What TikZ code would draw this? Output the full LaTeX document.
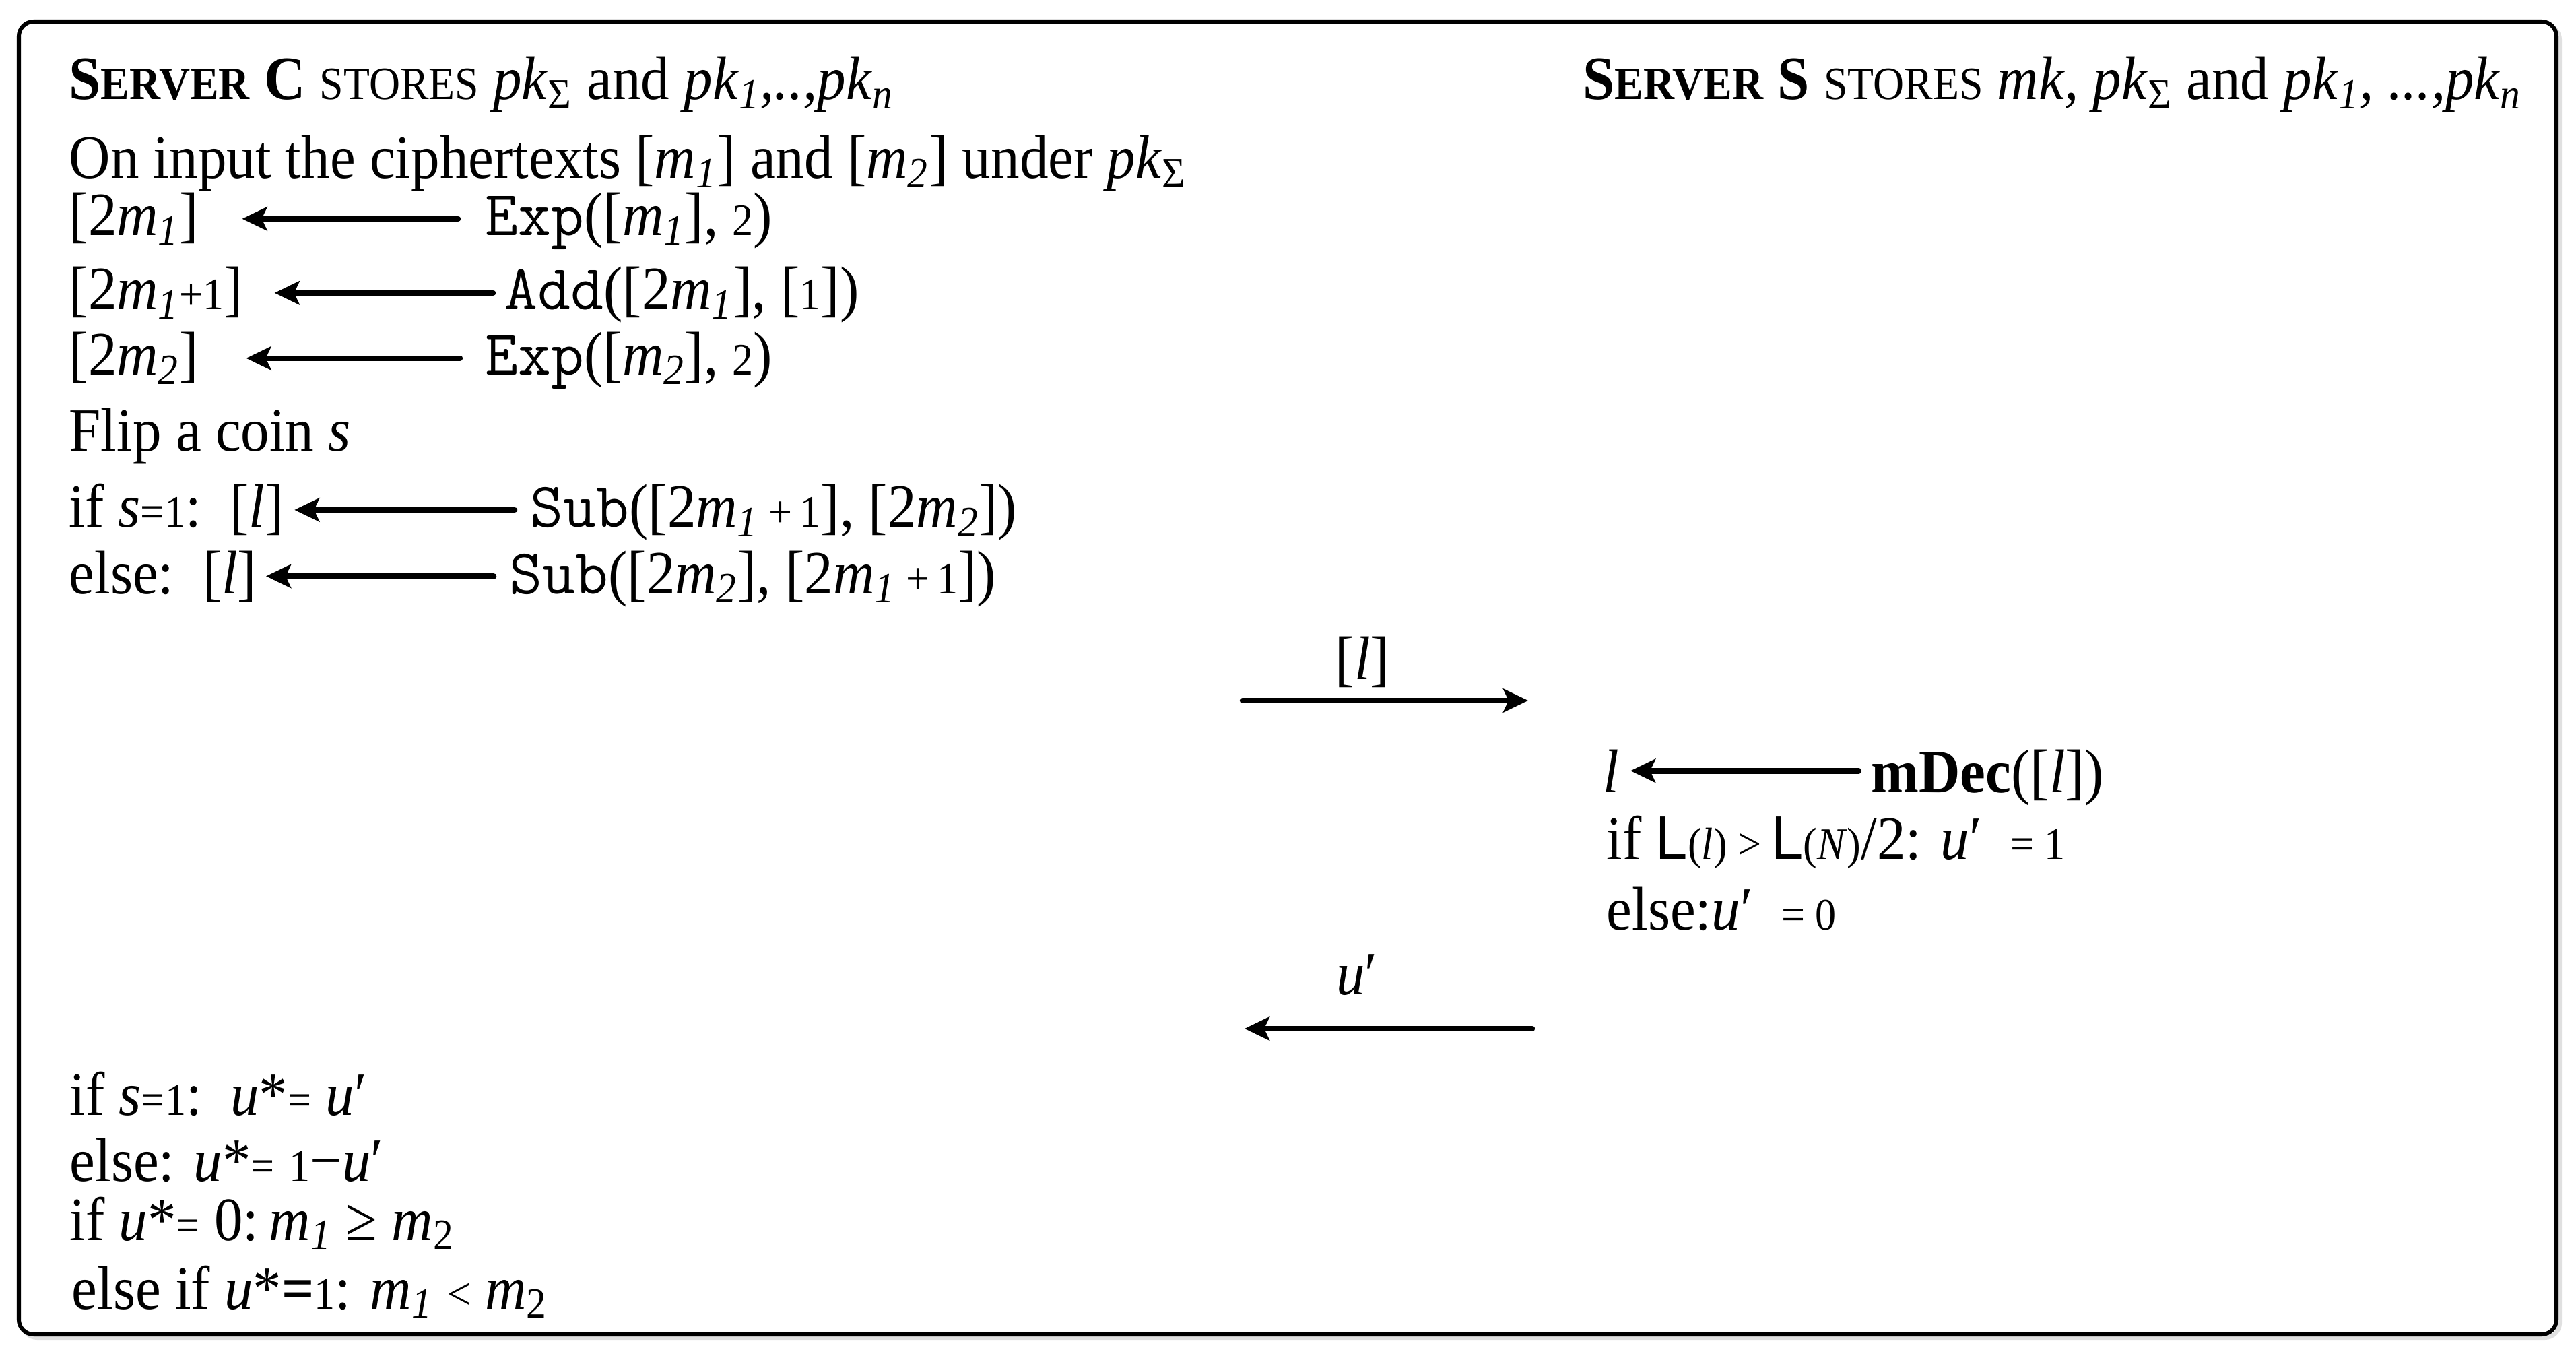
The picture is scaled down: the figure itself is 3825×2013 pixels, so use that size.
\documentclass[tikz,border=0pt]{standalone}
\usepackage{fontspec}
\setmainfont{Liberation Serif}[FakeStretch=0.93]
\newfontfamily\sansf{Liberation Sans}[FakeStretch=0.93]
\usetikzlibrary{arrows.meta}
\newcommand\ii[1]{\textit{#1}}
\newcommand\sm[1]{{\fontsize{19}{22}\selectfont #1}}
\newcommand\scs[1]{{\fontsize{19.5}{22}\selectfont #1}}
\newcommand\sbs[1]{\textsubscript{#1}}
\newcommand\monof{\fontsize{27}{30}\selectfont\ttfamily}
\begin{document}
\begin{tikzpicture}[x=0.01cm,y=-0.01cm,
  txt/.style={inner sep=0pt, anchor=base west, font=\fontsize{26}{30}\selectfont},
  arr/.style={line width=0.085cm, line cap=round, -{Stealth[length=0.37cm,width=0.35cm,inset=0.08cm]}},
  frame/.style={line width=0.06cm, rounded corners=0.22cm}]
\useasboundingbox (0,0) rectangle (3825,2013);
% frame with soft shadow
\draw[frame, draw=black!12] (33,37) rectangle (3801,1986);
\draw[frame, fill=white] (28,32) rectangle (3796,1981);

% headers
\node[txt] (hC) at (102,148) {\textbf{S\scs{ERVER} C} \scs{STORES} \ii{pk}\sbs{Σ} and \ii{pk}\sbs{\ii{1}}\ii{,..,pk}\sbs{\ii{n}}};
\node[txt, anchor=base east] (hS) at (3745,148) {\textbf{S\scs{ERVER} S} \scs{STORES} \ii{mk, pk}\sbs{Σ} and \ii{pk}\sbs{\ii{1}}\ii{, ...,pk}\sbs{\ii{n}}};

\node[txt] (inp) at (102,265) {On input the ciphertexts [\ii{m}\sbs{\ii{1}}] and [\ii{m}\sbs{\ii{2}}] under \ii{pk}\sbs{Σ}};

% rows
\node[txt] (r1l) at (102,350) {[2\ii{m}\sbs{\ii{1}}]};
\node[txt] (r1r) at (720,350) {{\monof Exp}([\ii{m}\sbs{\ii{1}}], \sm{2})};
\node[txt] (r2l) at (102,460) {[2\ii{m}\sbs{\ii{1}}\sm{+1}]};
\node[txt] (r2r) at (749,460) {{\monof Add}([2\ii{m}\sbs{\ii{1}}], [\sm{1}])};
\node[txt] (r3l) at (102,557) {[2\ii{m}\sbs{\ii{2}}]};
\node[txt] (r3r) at (720,557) {{\monof Exp}([\ii{m}\sbs{\ii{2}}], \sm{2})};
\node[txt] (flip) at (102,670) {Flip a coin \ii{s}};
\node[txt] (r4l) at (102,783) {if \ii{s}\sm{=1}:\ \ [\ii{l}]};
\node[txt] (r4r) at (787,783) {{\monof Sub}([2\ii{m}\sbs{\ii{1}}\,\sm{+\,1}], [2\ii{m}\sbs{\ii{2}}])};
\node[txt] (r5l) at (102,881) {else:\ \ [\ii{l}]};
\node[txt] (r5r) at (756,881) {{\monof Sub}([2\ii{m}\sbs{\ii{2}}], [2\ii{m}\sbs{\ii{1}}\,\sm{+\,1}])};

\draw[arr, shorten <=0.40cm, shorten >=0.64cm] (r1r.west |- r1l.east) -- (r1l.east);
\draw[arr, shorten <=0.17cm, shorten >=0.46cm] (r2r.west |- r2l.east) -- (r2l.east);
\draw[arr, shorten <=0.37cm, shorten >=0.70cm] (r3r.west |- r3l.east) -- (r3l.east);
\draw[arr, shorten <=0.23cm, shorten >=0.15cm] (r4r.west |- r4l.east) -- (r4l.east);
\draw[arr, shorten <=0.23cm, shorten >=0.13cm] (r5r.west |- r5l.east) -- (r5l.east);

% message [l]
\coordinate (m1a) at (1845,1040);
\coordinate (m1b) at (2269,1040);
\draw[arr] (m1a) -- node[pos=0.42, above=0.15cm, inner sep=0pt, font=\fontsize{26}{30}\selectfont] (m1lab) {[\ii{l}]} (m1b);

% server S
\node[txt] (ll) at (2380,1176) {\ii{l}};
\node[txt] (mdec) at (2778,1176) {\textbf{mDec}([\ii{l}])};
\draw[arr, shorten <=0.18cm, shorten >=0.16cm] (mdec.west |- ll.east) -- (ll.east);
\node[txt] (ifL) at (2385,1275) {if {\sansf L}\sm{(\ii{l})}\,\sm{>}\,{\sansf L}\sm{(\ii{N})}/2: \ii{u}′\ \ \sm{= 1}};
\node[txt] (elL) at (2385,1380) {else:\ii{u}′\ \ \sm{= 0}};

% message u'
\coordinate (m2a) at (2275,1527);
\coordinate (m2b) at (1848,1527);
\draw[arr] (m2a) -- node[pos=0.61, above=0.45cm, inner sep=0pt, font=\fontsize{26}{30}\selectfont] (m2lab) {\ii{u}′} (m2b);

% final
\node[txt] (f1) at (103,1655) {if \ii{s}\sm{=1}:\ \ \ii{u}*\sm{=} \ii{u}′};
\node[txt] (f2) at (103,1753) {else: \ii{u}*\sm{=} \sm{1}−\ii{u}′};
\node[txt] (f3) at (103,1841) {if \ii{u}*\sm{=} 0:\,\ii{m}\sbs{\ii{1}} ≥ \ii{m}\sbs{2}};
\node[txt] (f4) at (106,1943) {else if \ii{u}*\textbf{=}\sm{1}: \ii{m}\sbs{\ii{1}} \sm{<} \ii{m}\sbs{2}};
\end{tikzpicture}
\end{document}
